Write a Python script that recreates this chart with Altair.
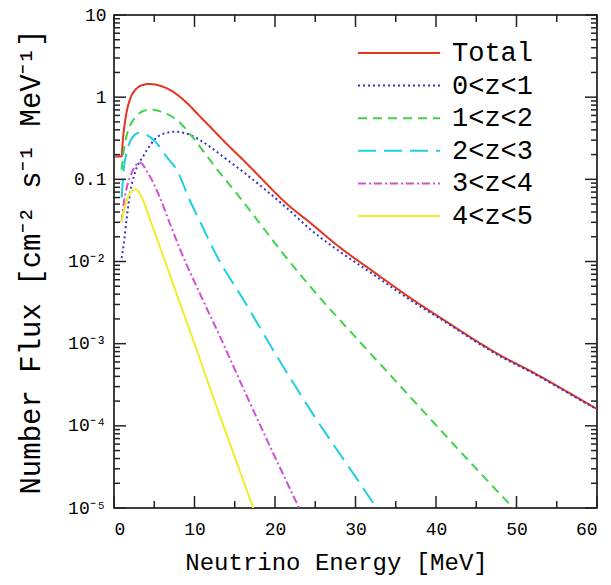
import altair as alt
import pandas as pd

FONT = "Liberation Mono"

series_names = ["Total", "0<z<1", "1<z<2", "2<z<3", "3<z<4", "4<z<5"]
series_colors = ["#e3351f", "#3434c8", "#3fd34a", "#1fcfe0", "#d24fd2", "#eeee2a"]
series_dashes = [[1, 0], [2, 3], [9, 6], [18, 8], [8, 3, 2, 3], [1, 0]]

total_E = [0.15, 0.95, 1.1, 1.3, 1.6, 2.0, 2.5, 3.0, 3.5, 4.3, 5.0, 6.0, 7.0, 7.8, 9.0, 10.7,
           11.9, 14.0, 16.1, 18.0, 21.4, 24.3, 28.0, 32.0, 37.0, 41.5, 45.0, 48.0, 52.0, 56.0, 60.0]
total_F = [0.19, 0.19, 0.30, 0.45, 0.68, 0.95, 1.18, 1.32, 1.40, 1.45, 1.43, 1.35, 1.22, 1.08, 0.86, 0.58,
           0.44, 0.27, 0.17, 0.11, 0.051, 0.030, 0.015, 0.0078, 0.0035, 0.0018, 0.00108, 0.00072, 0.00045, 0.00027, 0.00016]

z01_E = [0.95, 1.2, 1.6, 2.0, 2.6, 3.6, 4.5, 5.1, 6.0, 7.6, 9.0, 10.7, 11.9, 14.0, 16.1, 19.0,
         21.9, 24.3, 28.0, 32.0, 37.0, 41.5, 45.0, 48.0, 52.0, 56.0, 60.0]
z01_F = [0.011, 0.016, 0.035, 0.068, 0.12, 0.19, 0.26, 0.31, 0.355, 0.38, 0.36, 0.30, 0.25, 0.175, 0.122, 0.072,
         0.041, 0.025, 0.0133, 0.0072, 0.0033, 0.00175, 0.00105, 0.00070, 0.00044, 0.000265, 0.000158]

z12_E = [0.95, 1.2, 1.6, 2.0, 2.6, 3.5, 4.7, 6.0, 7.8, 9.5, 11.1, 13.0, 15.2, 17.5, 20.6, 25.0,
         30.0, 35.0, 40.0, 45.0, 49.6]
z12_F = [0.13, 0.22, 0.35, 0.45, 0.56, 0.67, 0.71, 0.66, 0.53, 0.35, 0.22, 0.125, 0.068, 0.035, 0.014, 0.0042,
         0.0012, 0.00035, 0.000102, 0.00003, 0.00001]

z23_E = [0.95, 1.2, 1.6, 2.0, 2.6, 3.2, 4.0, 5.1, 6.5, 7.8, 9.4, 10.8, 12.8, 16.1, 20.2, 25.0, 30.4, 32.6]
z23_F = [0.06, 0.13, 0.22, 0.29, 0.35, 0.37, 0.35, 0.29, 0.19, 0.13, 0.056, 0.029, 0.0115, 0.0034,
         0.00071, 0.000126, 0.000021, 0.00001]

z34_E = [0.95, 1.2, 1.6, 2.2, 3.2, 4.2, 5.7, 7.0, 8.2, 10.7, 13.2, 16.0, 20.0, 23.1]
z34_F = [0.03, 0.05, 0.08, 0.12, 0.16, 0.12, 0.060, 0.028, 0.0141, 0.0040, 0.0012, 0.000295, 0.0000417, 0.0000095]

z45_E = [0.95, 1.2, 1.6, 2.0, 2.6, 3.0, 3.6, 4.5, 6.1, 8.0, 10.0, 12.5, 15.0, 17.4]
z45_F = [0.03, 0.04, 0.055, 0.068, 0.075, 0.072, 0.056, 0.032, 0.0117, 0.0035, 0.0010, 0.0002, 0.0000417, 0.0000093]

x_major_ticks = [0, 10, 20, 30, 40, 50, 60]
x_minor_ticks = [5, 15, 25, 35, 45, 55]
y_decades = [1e-5, 1e-4, 1e-3, 1e-2, 1e-1, 1, 10]
y_minor_mult = [2, 3, 4, 5, 6, 7, 8, 9]

E_lists = [total_E, z01_E, z12_E, z23_E, z34_E, z45_E]
F_lists = [total_F, z01_F, z12_F, z23_F, z34_F, z45_F]

rows = []
for name, E, F in zip(series_names, E_lists, F_lists):
    for i, (e, f) in enumerate(zip(E, F)):
        rows.append({"series": name, "E": e, "F": f, "order": i})
df = pd.DataFrame(rows)

W, H = 483, 493
xscale = alt.Scale(domain=[0, 60], nice=False, zero=False)
yscale = alt.Scale(type="log", domain=[1e-5, 10], nice=False)
cscale = alt.Scale(domain=series_names, range=series_colors)
dscale = alt.Scale(domain=series_names, range=series_dashes)

x_axis = alt.Axis(values=x_major_ticks, tickSize=0, domain=False, grid=False,
                  labelFont=FONT, labelFontSize=18, labelColor="black", labelPadding=12,
                  title="Neutrino Energy [MeV]", titleFont=FONT, titleFontSize=24,
                  titleFontWeight="normal", titleColor="black", titlePadding=12,
                  titleX=222, titleAnchor="middle", titleAlign="center")

ylabel_expr = ("datum.value > 5 ? '10' : datum.value > 0.5 ? '1' : datum.value > 0.05 ? '0.1' : "
               "datum.value > 0.005 ? '10⁻²' : datum.value > 0.0005 ? '10⁻³' : "
               "datum.value > 0.00005 ? '10⁻⁴' : '10⁻⁵'")

lines = alt.Chart(df).mark_line(strokeWidth=2, interpolate="monotone", clip=True).encode(
    x=alt.X("E:Q", scale=xscale, axis=x_axis),
    y=alt.Y("F:Q", scale=yscale,
            axis=alt.Axis(values=y_decades, labelExpr=ylabel_expr, tickSize=0, domain=False, grid=False,
                          labelFont=FONT, labelFontSize=18, labelColor="black", labelPadding=8,
                          title="Number Flux [cm⁻² s⁻¹ MeV⁻¹]", titleFont=FONT, titleFontSize=29,
                          titleFontWeight="normal", titleColor="black", titlePadding=22)),
    color=alt.Color("series:N", scale=cscale, legend=None),
    strokeDash=alt.StrokeDash("series:N", scale=dscale, legend=None),
    order="order:Q",
)

tick_df = pd.DataFrame(
    [{"v": v, "kind": "xmaj"} for v in x_major_ticks]
    + [{"v": v, "kind": "xmin"} for v in x_minor_ticks]
)
ytick_df = pd.DataFrame(
    [{"v": v, "kind": "ymaj"} for v in y_decades]
    + [{"v": m * d, "kind": "ymin"} for d in y_decades[:-1] for m in y_minor_mult]
)

TICK_COLOR = "#222222"


def xticks(kind, length):
    base = alt.Chart(tick_df).transform_filter(alt.datum.kind == kind).mark_rule(
        color=TICK_COLOR, strokeWidth=1.5)
    enc_x = alt.X("v:Q", scale=xscale, axis=x_axis)
    return [base.encode(x=enc_x, y=alt.value(H), y2=alt.value(H - length)),
            base.encode(x=enc_x, y=alt.value(0), y2=alt.value(length))]


def yticks(kind, length):
    base = alt.Chart(ytick_df).transform_filter(alt.datum.kind == kind).mark_rule(
        color=TICK_COLOR, strokeWidth=1.5)
    enc_y = alt.Y("v:Q", scale=yscale, axis=None)
    return [base.encode(y=enc_y, x=alt.value(0), x2=alt.value(length)),
            base.encode(y=enc_y, x=alt.value(W), x2=alt.value(W - length))]


tick_layers = xticks("xmaj", 12) + xticks("xmin", 7) + yticks("ymaj", 12) + yticks("ymin", 6)

legend_df = pd.DataFrame({"series": series_names, "row": list(range(len(series_names)))})
leg_y = alt.Y("row:Q", scale=alt.Scale(domain=[0, 5], range=[38, 201]), axis=None)
leg_lines = alt.Chart(legend_df).mark_rule(strokeWidth=2).encode(
    x=alt.value(244), x2=alt.value(326), y=leg_y,
    color=alt.Color("series:N", scale=cscale, legend=None),
    strokeDash=alt.StrokeDash("series:N", scale=dscale, legend=None),
)
leg_text = alt.Chart(legend_df).mark_text(align="left", baseline="middle", font=FONT,
                                           fontSize=27, color="black").encode(
    x=alt.value(338), y=leg_y, text="series:N")

chart = alt.layer(lines, *tick_layers, leg_lines, leg_text).resolve_scale(
    y="independent"
).properties(
    width=W, height=H,
    autosize=alt.AutoSizeParams(type="none"),
    padding={"left": 114, "top": 15, "right": 14, "bottom": 77},
    background="white",
).configure_view(stroke="black", strokeWidth=1.5)

chart.save("out.html", embed_options={"renderer": "svg", "actions": False})
